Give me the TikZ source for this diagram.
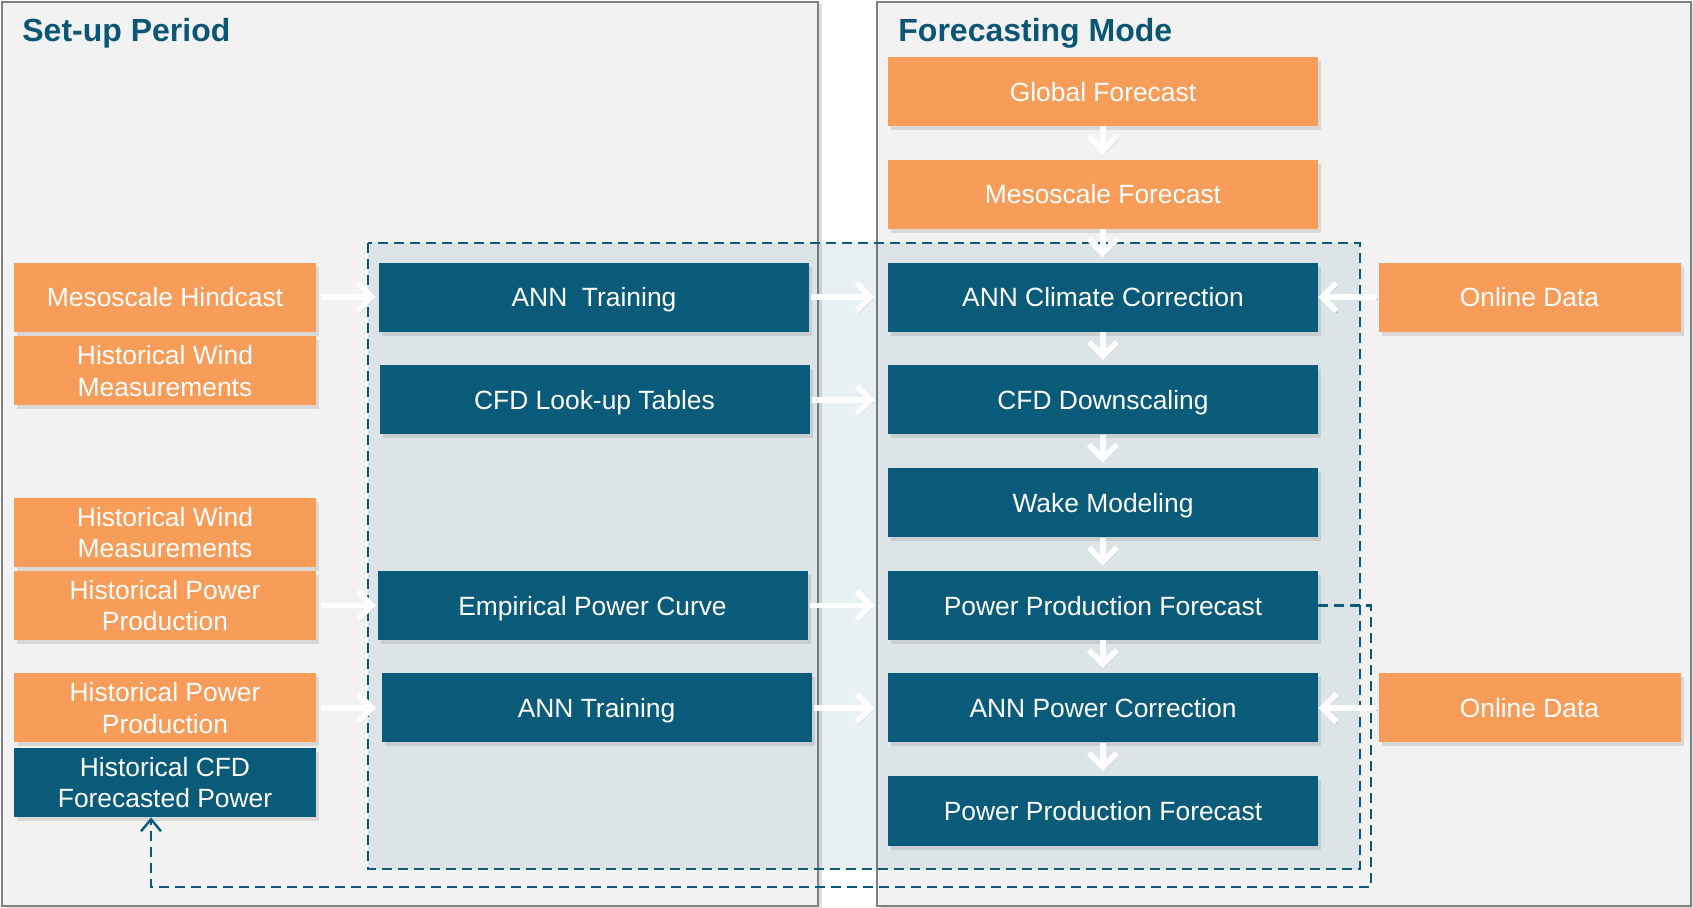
\documentclass[tikz,border=0pt]{standalone}
\usepackage{fontspec}
\setmainfont{Liberation Sans}
\usetikzlibrary{arrows.meta,shadows,calc}
\definecolor{orng}{HTML}{F79C59}
\definecolor{tealc}{HTML}{0A5A79}
\definecolor{titlec}{HTML}{0B5675}
\definecolor{panelbg}{HTML}{F2F2F2}
\definecolor{panelbd}{HTML}{808080}
\tikzset{
  panel/.style={fill=panelbg, draw=panelbd, line width=1.2pt,
    drop shadow={shadow xshift=2pt, shadow yshift=-1pt, opacity=0.25}},
  basebox/.style={rectangle, inner sep=0pt, text=white, align=center,
    font=\fontsize{13.2}{15.8}\selectfont,
    drop shadow={shadow xshift=1.5pt, shadow yshift=-2pt, opacity=0.22}},
  obox/.style={basebox, fill=orng},
  tbox/.style={basebox, fill=tealc},
  sl/.style={text height=9.6pt, text depth=0pt},
  wdim/.style={minimum width=215pt, minimum height=34.5pt},
  ndim/.style={minimum width=151pt, minimum height=34.5pt},
  warrow/.style={draw=white, line width=2.8pt, -{Straight Barb[length=7pt,width=14pt]},
    preaction={draw=black, draw opacity=0.18, transform canvas={shift={(0.8pt,-1.2pt)}}}},
  paneltitle/.style={font=\fontsize{16}{19}\selectfont\bfseries, text=titlec, anchor=base west, inner sep=0pt},
  fbline/.style={draw=tealc, line width=1.2pt, dash pattern=on 5pt off 3pt},
  zone/.style={draw=tealc, line width=1.2pt, dash pattern=on 5pt off 3pt, fill=tealc, fill opacity=0.09},
}
\begin{document}
\begin{tikzpicture}[x=0.5pt,y=-0.5pt]
\useasboundingbox (0,0) rectangle (1693,908);
% panels
\draw[panel] (2,2) rectangle (818,906);
\draw[panel] (877,2) rectangle (1691,906);
\node[paneltitle] (t1) at (22,42) {Set-up Period};
\node[paneltitle] (t2) at (898,42) {Forecasting Mode};
% dashed zone
\draw[zone] (368,243) rectangle (1360,869);
% right column
\node[obox,wdim,sl] (gf) at (1103,91.5) {Global Forecast};
\node[obox,wdim,sl] (mf) at (1103,194.3) {Mesoscale Forecast};
\node[tbox,wdim,sl] (acc) at (1103,297.1) {ANN Climate Correction};
\node[tbox,wdim,sl] (cfdd) at (1103,399.9) {CFD Downscaling};
\node[tbox,wdim,sl] (wake) at (1103,502.7) {Wake Modeling};
\node[tbox,wdim,sl] (ppf1) at (1103,605.5) {Power Production Forecast};
\node[tbox,wdim,sl] (apc) at (1103,708) {ANN Power Correction};
\node[tbox,wdim,sl] (ppf2) at (1103,811) {Power Production Forecast};
% online data
\node[obox,ndim,sl] (od1) at (1529.5,297.1) {Online Data};
\node[obox,ndim,sl] (od2) at (1529.5,708) {Online Data};
% middle column
\node[tbox,wdim,sl] (ann1) at (594,297.1) {ANN\ \ Training};
\node[tbox,wdim,sl] (cfdl) at (594.5,399.9) {CFD Look-up Tables};
\node[tbox,wdim,sl] (emp) at (592.5,605.5) {Empirical Power Curve};
\node[tbox,wdim,sl] (ann2) at (596.5,708) {ANN Training};
% left column
\node[obox,ndim,sl] (hind) at (165,297.1) {Mesoscale Hindcast};
\node[obox,ndim] (hw1) at (165,371) {Historical Wind\\Measurements};
\node[obox,ndim] (hw2) at (165,532.5) {Historical Wind\\Measurements};
\node[obox,ndim] (hp1) at (165,605.5) {Historical Power\\Production};
\node[obox,ndim] (hp2) at (165,708) {Historical Power\\Production};
\node[tbox,ndim] (hcfd) at (165,782.5) {Historical CFD\\Forecasted Power};
% feedback line
\coordinate (fbc) at (1371,887);
\draw[fbline, -{Straight Barb[length=6pt,width=10pt]}] (ppf1.east) -| (fbc) -| ([xshift=-7pt]hcfd.south);
% horizontal arrows
\draw[warrow, shorten <=2.5pt, shorten >=1.5pt] (hind.east) -- (ann1.west);
\draw[warrow, shorten <=1pt, shorten >=6.5pt] (ann1.east) -- (acc.west);
\draw[warrow, shorten <=1pt, shorten >=6.5pt] (cfdl.east) -- (cfdd.west);
\draw[warrow, shorten <=2.5pt, shorten >=0.5pt] (hp1.east) -- (emp.west);
\draw[warrow, shorten <=1pt, shorten >=6.5pt] (emp.east) -- (ppf1.west);
\draw[warrow, shorten <=2.5pt, shorten >=2.5pt] (hp2.east) -- (ann2.west);
\draw[warrow, shorten <=1pt, shorten >=6.5pt] (ann2.east) -- (apc.west);
\draw[warrow, shorten <=1pt] (od1.west) -- (acc.east);
\draw[warrow, shorten <=1pt] (od2.west) -- (apc.east);
% vertical arrows
\draw[warrow, shorten >=2.5pt] (gf.south) -- (mf.north);
\draw[warrow, shorten >=2.5pt] (mf.south) -- (acc.north);
\draw[warrow, shorten >=2.5pt] (acc.south) -- (cfdd.north);
\draw[warrow, shorten >=2.5pt] (cfdd.south) -- (wake.north);
\draw[warrow, shorten >=2.5pt] (wake.south) -- (ppf1.north);
\draw[warrow, shorten >=2.5pt] (ppf1.south) -- (apc.north);
\draw[warrow, shorten >=2.5pt] (apc.south) -- (ppf2.north);
\end{tikzpicture}
\end{document}
